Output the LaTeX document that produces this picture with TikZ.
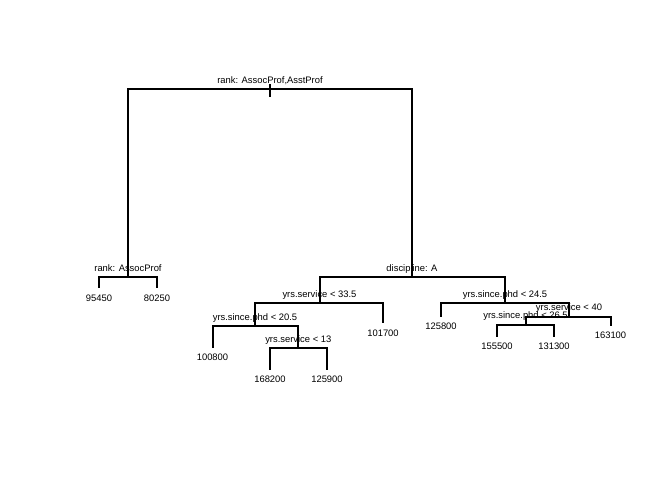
\documentclass[tikz,border=0pt]{standalone}
\usepackage{fontspec}
\setmainfont{Liberation Sans}
\begin{document}
\begin{tikzpicture}[x=1pt,y=-1pt,
  edge/.style={line width=1.4pt,line join=miter},
  lab/.style={anchor=base,inner sep=0pt,font=\fontsize{9.4}{11}\selectfont}]
\useasboundingbox[fill=white] (0,0) rectangle (672,480);
% split nodes
\coordinate (n1) at (270,89);
\coordinate (n1top) at (270,84);
\coordinate (n1bot) at (270,97);
\coordinate (n2) at (128,277);
\coordinate (n3) at (412,277);
\coordinate (n6) at (320,303);
\coordinate (n12) at (255,326);
\coordinate (n25) at (298,348);
\coordinate (n7) at (505,303);
\coordinate (n15) at (569,317);
\coordinate (n30) at (526,325);
% leaves
\coordinate (l4) at (99,288);
\coordinate (l5) at (157,288);
\coordinate (l13) at (383,323);
\coordinate (l24) at (213,348);
\coordinate (l50) at (270,370);
\coordinate (l51) at (327,370);
\coordinate (l14) at (441,317);
\coordinate (l60) at (497,337);
\coordinate (l61) at (554,337);
\coordinate (l31) at (611,326);
% edges
\draw[edge] (n1top) -- (n1bot);
\draw[edge] (n1) -| (n2);
\draw[edge] (n1) -| (n3);
\draw[edge] (n2) -| (l4);
\draw[edge] (n2) -| (l5);
\draw[edge] (n3) -| (n6);
\draw[edge] (n3) -| (n7);
\draw[edge] (n6) -| (n12);
\draw[edge] (n6) -| (l13);
\draw[edge] (n12) -| (l24);
\draw[edge] (n12) -| (n25);
\draw[edge] (n25) -| (l50);
\draw[edge] (n25) -| (l51);
\draw[edge] (n7) -| (l14);
\draw[edge] (n7) -| (n15);
\draw[edge] (n15) -| (n30);
\draw[edge] (n15) -| (l31);
\draw[edge] (n30) -| (l60);
\draw[edge] (n30) -| (l61);
% split labels
\node[lab] (t1) at (270,83.2) {rank: AssocProf,AsstProf};
\node[lab] (t2) at (128,271.4) {rank: AssocProf};
\node[lab] (t3) at (412,271.4) {discipline: A};
\node[lab] (t6) at (319.5,297.6) {yrs.service < 33.5};
\node[lab] (t12) at (255,320) {yrs.since.phd < 20.5};
\node[lab] (t25) at (298.3,342.2) {yrs.service < 13};
\node[lab] (t7) at (505,297.6) {yrs.since.phd < 24.5};
\node[lab] (t15) at (569,310.8) {yrs.service < 40};
\node[lab] (t30) at (525.5,318.8) {yrs.since.phd < 26.5};
% leaf labels
\node[lab] (v4) at (99,301) {95450};
\node[lab] (v5) at (157,301) {80250};
\node[lab] (v13) at (383,336) {101700};
\node[lab] (v24) at (212.5,360.4) {100800};
\node[lab] (v50) at (270,382.7) {168200};
\node[lab] (v51) at (327,382.7) {125900};
\node[lab] (v14) at (441,329.4) {125800};
\node[lab] (v60) at (497,349.4) {155500};
\node[lab] (v61) at (554,349.4) {131300};
\node[lab] (v31) at (610.5,338.2) {163100};
\end{tikzpicture}
\end{document}
